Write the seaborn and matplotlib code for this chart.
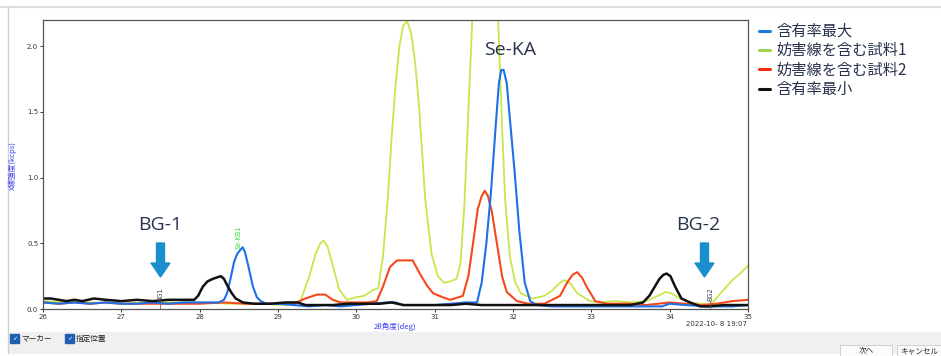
import numpy as np
import pandas as pd
import seaborn as sns
import matplotlib.pyplot as plt
from matplotlib.patches import FancyArrow, Rectangle
from matplotlib.lines import Line2D

# 含有率最大 (blue)
blue_x = [26.0, 26.2, 26.4, 26.6, 26.8, 27.0, 27.2, 27.4, 27.6, 27.8, 28.0, 28.24, 28.31, 28.35,
          28.39, 28.44, 28.48, 28.52, 28.55, 28.58, 28.62, 28.68, 28.73, 28.78, 28.85, 29.0,
          29.2, 29.4, 29.6, 29.8, 30.0, 30.2, 30.4, 30.5, 30.6, 30.8, 31.0, 31.2, 31.4, 31.54,
          31.6, 31.66, 31.72, 31.78, 31.82, 31.85, 31.88, 31.92, 31.96, 32.02, 32.08, 32.15,
          32.22, 32.3, 32.5, 32.8, 33.0, 33.3, 33.6, 33.9, 34.0, 34.2, 34.5, 34.8, 35.0]
blue_y = [0.05, 0.04, 0.05, 0.04, 0.05, 0.04, 0.04, 0.05, 0.04, 0.05, 0.05, 0.05, 0.07, 0.12,
          0.22, 0.36, 0.42, 0.45, 0.47, 0.43, 0.33, 0.17, 0.09, 0.06, 0.04, 0.04,
          0.03, 0.02, 0.03, 0.02, 0.03, 0.04, 0.05, 0.05, 0.03, 0.03, 0.03, 0.04, 0.05, 0.05,
          0.2, 0.5, 0.9, 1.4, 1.72, 1.82, 1.82, 1.72, 1.45, 1.05, 0.6, 0.2,
          0.06, 0.03, 0.02, 0.02, 0.02, 0.02, 0.02, 0.02, 0.04, 0.03, 0.02, 0.02, 0.03]

# 妨害線を含む試料1 (yellow green)
green_x = [26.0, 26.3, 26.6, 27.0, 27.3, 27.6, 28.0, 28.4, 28.8, 29.1, 29.28, 29.4, 29.48, 29.54,
           29.58, 29.63, 29.7, 29.78, 29.88, 30.0, 30.1, 30.2, 30.28, 30.34, 30.4, 30.45, 30.5,
           30.55, 30.6, 30.65, 30.7, 30.75, 30.8, 30.88, 30.96, 31.04, 31.12, 31.2, 31.28, 31.33,
           31.38, 31.43, 31.48, 31.55, 31.65, 31.74, 31.81, 31.86, 31.9, 31.96, 32.03, 32.1,
           32.25, 32.4, 32.5, 32.6, 32.66, 32.74, 32.82, 32.98, 33.1, 33.3, 33.5, 33.7,
           33.85, 33.95, 34.02, 34.1, 34.25, 34.4, 34.52, 34.65, 34.8, 34.9, 35.0]
green_y = [0.06, 0.05, 0.05, 0.04, 0.05, 0.05, 0.05, 0.04, 0.04, 0.03, 0.05, 0.25, 0.42, 0.5,
           0.52, 0.48, 0.33, 0.15, 0.07, 0.09, 0.1, 0.14, 0.16, 0.4, 0.83, 1.3, 1.7,
           2.0, 2.16, 2.19, 2.1, 1.88, 1.55, 0.83, 0.42, 0.25, 0.2, 0.21, 0.23, 0.35,
           0.8, 1.5, 2.2, 2.9, 3.2, 2.9, 2.2, 1.4, 0.83, 0.4, 0.2, 0.12,
           0.08, 0.1, 0.14, 0.2, 0.22, 0.19, 0.12, 0.06, 0.05, 0.06, 0.05, 0.06,
           0.1, 0.13, 0.12, 0.09, 0.05, 0.04, 0.03, 0.12, 0.22, 0.27, 0.33]

# 妨害線を含む試料2 (red)
red_x = [26.0, 26.2, 26.4, 26.6, 26.8, 27.0, 27.3, 27.6, 28.0, 28.3, 28.6, 28.9, 29.2, 29.35,
         29.5, 29.6, 29.7, 29.8, 30.0, 30.15, 30.26, 30.34, 30.43, 30.52, 30.62, 30.72, 30.81,
         30.9, 30.98, 31.1, 31.2, 31.36, 31.43, 31.49, 31.55, 31.6, 31.64, 31.68, 31.73, 31.8,
         31.86, 31.92, 32.05, 32.2, 32.4, 32.6, 32.69, 32.76, 32.82, 32.88, 32.94, 33.05, 33.2,
         33.5, 33.7, 34.0, 34.2, 34.4, 34.6, 34.8, 35.0]
red_y = [0.05, 0.04, 0.05, 0.04, 0.05, 0.04, 0.04, 0.04, 0.04, 0.05, 0.04, 0.04, 0.04, 0.08,
         0.11, 0.11, 0.07, 0.05, 0.05, 0.05, 0.06, 0.17, 0.32, 0.37, 0.37, 0.37, 0.27,
         0.18, 0.12, 0.09, 0.07, 0.1, 0.25, 0.5, 0.76, 0.86, 0.9, 0.86, 0.74, 0.48,
         0.25, 0.13, 0.06, 0.04, 0.04, 0.1, 0.2, 0.26, 0.28, 0.24, 0.17, 0.06, 0.04,
         0.04, 0.03, 0.05, 0.04, 0.03, 0.04, 0.06, 0.07]

# 含有率最小 (black)
black_x = [26.0, 26.1, 26.2, 26.3, 26.4, 26.5, 26.65, 26.8, 27.0, 27.2, 27.4, 27.6, 27.8, 27.93,
           27.98, 28.04, 28.1, 28.17, 28.22, 28.27, 28.31, 28.36, 28.41, 28.46, 28.55, 28.7,
           28.9, 29.1, 29.25, 29.35, 29.5, 29.7, 29.9, 30.1, 30.3, 30.45, 30.6, 30.8, 31.0,
           31.2, 31.4, 31.6, 31.8, 32.0, 32.3, 32.6, 32.9, 33.2, 33.5, 33.66, 33.74, 33.81,
           33.87, 33.92, 33.96, 34.01, 34.07, 34.15, 34.26, 34.39, 34.5, 34.7, 35.0]
black_y = [0.08, 0.08, 0.07, 0.06, 0.07, 0.06, 0.08, 0.07, 0.06, 0.07, 0.06, 0.07, 0.07, 0.07,
           0.1, 0.17, 0.21, 0.23, 0.24, 0.25, 0.23, 0.17, 0.12, 0.08, 0.05, 0.04,
           0.04, 0.05, 0.05, 0.03, 0.03, 0.03, 0.04, 0.04, 0.04, 0.05, 0.03, 0.03, 0.03,
           0.03, 0.04, 0.03, 0.03, 0.03, 0.03, 0.03, 0.03, 0.03, 0.03, 0.05, 0.1, 0.17,
           0.23, 0.26, 0.27, 0.25, 0.17, 0.08, 0.05, 0.02, 0.02, 0.03, 0.03]

labels = ["含有率最大", "妨害線を含む試料1", "妨害線を含む試料2", "含有率最小"]
colors = ["#1f6fe6", "#c9e64a", "#f5481c", "#111111"]
legend_colors = ["#1a78d6", "#9bd24f", "#f52a10", "#111111"]
widths = [1.5, 1.3, 1.5, 1.8]
x_ticks = [26, 27, 28, 29, 30, 31, 32, 33, 34, 35]
y_ticks = [0.0, 0.5, 1.0, 1.5, 2.0]

W, H = 941, 356
navy = "#27324d"
jp = ["Noto Sans CJK JP", "DejaVu Sans"]


def fx(px):
    return px / W


def fy(py):
    return 1 - py / H


def main():
    sns.set_style("white")
    plt.rcParams["font.family"] = jp

    fig = plt.figure(figsize=(W / 100, H / 100), dpi=100)
    fig.patch.set_facecolor("white")
    ax = fig.add_axes([fx(43), fy(309), fx(748) - fx(43), fy(20) - fy(309)])

    series = [(blue_x, blue_y), (green_x, green_y), (red_x, red_y), (black_x, black_y)]
    order = [1, 2, 0, 3]
    for i in order:
        xs, ys = series[i]
        df = pd.DataFrame({"deg": xs, "kcps": ys})
        sns.lineplot(data=df, x="deg", y="kcps", color=colors[i], lw=widths[i],
                     estimator=None, sort=False, ax=ax, legend=False,
                     solid_joinstyle="round")

    ax.set_xlim(26, 35)
    ax.set_ylim(0, 2.2)
    ax.set_xticks(x_ticks)
    ax.set_xticklabels([str(t) for t in x_ticks])
    ax.set_yticks(y_ticks)
    ax.set_yticklabels(["%.1f" % t for t in y_ticks])
    ax.tick_params(axis="both", labelsize=5, colors="#333333", length=2.5, width=0.7,
                   direction="out", pad=1, left=True, bottom=True)
    for lab in ax.get_xticklabels() + ax.get_yticklabels():
        lab.set_family("DejaVu Sans")
    for s in ax.spines.values():
        s.set_color("#555555")
        s.set_linewidth(0.9)
    ax.set_xlabel("")
    ax.set_ylabel("")

    # axis captions
    fig.text(fx(13), fy(165), "X線強度(kcps)", rotation=90, color="#3a3af0", fontsize=5.5,
             ha="center", va="center")
    fig.text(fx(395), fy(327), "2θ角度(deg)", color="#3a3af0", fontsize=5.5,
             ha="center", va="center")
    fig.text(fx(747), fy(324.5), "2022-10- 8 19:07", color="#333333", fontsize=5,
             ha="right", va="center", family="DejaVu Sans")

    # marker labels
    ax.text(28.5, 0.46, "Se-KB1", rotation=90, color="#33dd33", fontsize=4.8,
            ha="center", va="bottom", family="DejaVu Sans")
    ax.text(27.5, 0.06, "BG1", rotation=90, color="#444444", fontsize=4.8,
            ha="center", va="bottom", family="DejaVu Sans")
    ax.text(34.52, 0.06, "BG2", rotation=90, color="#444444", fontsize=4.8,
            ha="center", va="bottom", family="DejaVu Sans")
    ax.plot([27.5, 27.5], [0.0, 0.06], color="#666666", lw=0.6)
    ax.plot([34.52, 34.52], [0.0, 0.06], color="#666666", lw=0.6)

    # annotations
    ax.text(27.5, 0.64, "BG-1", color=navy, fontsize=14, ha="center", va="center",
            family="Open Sans")
    ax.text(34.37, 0.64, "BG-2", color=navy, fontsize=14, ha="center", va="center",
            family="Open Sans")
    ax.text(31.96, 1.97, "Se-KA", color=navy, fontsize=14, ha="center", va="center",
            family="Open Sans")
    for cx in [160.5, 704.5]:
        arr = FancyArrow(cx / 100, (H - 243) / 100, 0, -34 / 100, width=8 / 100,
                         head_width=19 / 100, head_length=14 / 100,
                         length_includes_head=True, color="#1b8fce",
                         transform=fig.dpi_scale_trans)
        fig.add_artist(arr)

    # legend
    handles = [Line2D([0], [0], color=c, lw=2.2) for c in legend_colors]
    leg = fig.legend(handles, labels, loc="upper left", bbox_to_anchor=(fx(759), fy(23)),
                     frameon=False, fontsize=11, handlelength=0.75, handletextpad=0.4,
                     labelspacing=0.15, borderaxespad=0, borderpad=0)
    for t in leg.get_texts():
        t.set_color(navy)

    # window frame and bottom panel
    fig.add_artist(Line2D([0, 1], [fy(7), fy(7)], color="#dddddd", lw=1.5,
                          transform=fig.transFigure))
    fig.add_artist(Line2D([fx(8), fx(8)], [fy(7), fy(353)], color="#d0d0d0", lw=1,
                          transform=fig.transFigure))
    fig.add_artist(Rectangle((fx(8), fy(353)), 1, fy(332) - fy(353), color="#f0f0f0",
                             transform=fig.transFigure, zorder=0))
    for bx, txt in [(10, "マーカー"), (65, "指定位置")]:
        fig.add_artist(Rectangle((fx(bx), fy(343)), fx(9), fy(334) - fy(343),
                                 facecolor="#1f5fb0", edgecolor="#1f5fb0",
                                 transform=fig.transFigure))
        fig.text(fx(bx + 2), fy(339), "✓", color="white", fontsize=4.5, va="center",
                 family="DejaVu Sans")
        fig.text(fx(bx + 11), fy(338.5), txt, color="#222222", fontsize=5.5, va="center")
    for x0, x1, txt in [(840, 892, "次へ"), (897, 941, "キャンセル")]:
        fig.add_artist(Rectangle((fx(x0), fy(356)), fx(x1 - x0), fy(345) - fy(356),
                                 facecolor="#fbfbfb", edgecolor="#cccccc", lw=0.6,
                                 transform=fig.transFigure))
        fig.text(fx((x0 + x1) / 2), fy(351), txt, color="#222222", fontsize=5.5,
                 ha="center", va="center")

    fig.savefig("out.png", dpi=100, facecolor="white")


main()
